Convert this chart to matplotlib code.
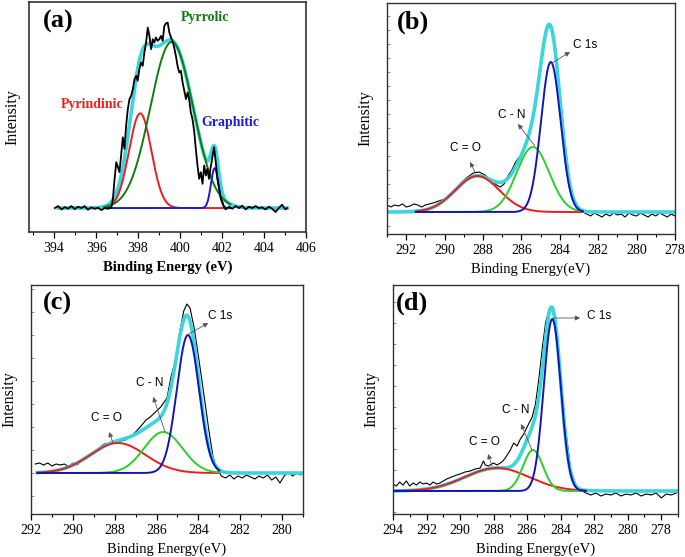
import numpy as np
import matplotlib
matplotlib.use("Agg")
import matplotlib.pyplot as plt
from matplotlib.ticker import MultipleLocator, NullFormatter

plt.rcParams['font.family'] = ['Liberation Serif', 'DejaVu Serif']

# ---------------- panel (a): N 1s ----------------
a_raw_e = [394.03, 394.19, 394.35, 394.51, 394.66, 394.82, 394.98, 395.14, 395.30, 395.45,
           395.61, 395.77, 395.93, 396.09, 396.25, 396.40, 396.56, 396.72, 396.80, 396.88,
           396.96, 397.04, 397.11, 397.19, 397.27, 397.35, 397.43, 397.51, 397.59, 397.67,
           397.75, 397.83, 397.91, 397.98, 398.06, 398.14, 398.22, 398.30, 398.38, 398.46,
           398.54, 398.62, 398.70, 398.77, 398.85, 398.93, 399.01, 399.09, 399.17, 399.25,
           399.33, 399.41, 399.49, 399.57, 399.64, 399.72, 399.80, 399.88, 399.96, 400.04,
           400.12, 400.20, 400.28, 400.36, 400.43, 400.51, 400.59, 400.67, 400.75, 400.83,
           400.91, 400.99, 401.07, 401.15, 401.23, 401.30, 401.38, 401.46, 401.54, 401.62,
           401.70, 401.78, 401.86, 401.94, 402.02, 402.09, 402.17, 402.33, 402.49, 402.65,
           402.81, 402.96, 403.12, 403.28, 403.44, 403.60, 403.75, 403.91, 404.07, 404.23,
           404.39, 404.55, 404.70, 404.86, 405.02, 405.10]
a_raw_i = [0, 6, -4, 3, -2, 6, -3, 4, 0, 6,
           -5, 2, -2, 1, -6, 0, -2, 1, 28, 88,
           138, 123, 108, 158, 213, 178, 248, 298, 328, 338,
           358, 388, 398, 383, 418, 438, 428, 468, 498, 543,
           518, 478, 508, 498, 513, 503, 508, 518, 503, 548,
           556, 558, 528, 513, 503, 483, 458, 428, 408, 413,
           378, 353, 328, 348, 328, 288, 268, 233, 178, 128,
           88, 108, 73, 128, 98, 118, 88, 123, 153, 183,
           138, 88, 58, 28, 18, 3, -4, 4, -2, 6,
           0, 7, -4, 4, 0, 6, 0, 2, -4, 4,
           -2, -12, 0, 10, -4, 0]
a_names = ['Pyrindinic', 'Pyrrolic', 'Graphitic']
a_centers = [398.1, 399.6, 401.65]
a_heights = [285, 500, 120]
a_fwhm = [1.25, 2.4, 0.42]

# ---------------- panel (b): C 1s ----------------
b_raw_e = [293.0, 292.8, 292.6, 292.4, 292.2, 292.0, 291.8, 291.6, 291.4, 291.2,
           291.0, 290.8, 290.6, 290.3, 290.0, 289.7, 289.4, 289.1, 288.8, 288.5,
           288.2, 287.9, 287.6, 287.3, 287.1, 286.9, 286.7, 286.5, 286.3, 286.0,
           285.7, 285.5, 285.2, 285.0, 284.8, 284.6, 284.4, 284.2, 284.0, 283.8,
           283.5, 283.3, 283.0, 282.8, 282.6, 282.4, 282.2, 282.0, 281.8, 281.6,
           281.4, 281.2, 281.0, 280.8, 280.6, 280.4, 280.2, 280.0, 279.8, 279.6,
           279.4, 279.2, 279.0, 278.8, 278.6, 278.4, 278.2, 278.0]
b_raw_i = [7, 5, 7, 6, 8, 5, 6, 8, 7, 5,
           7, 8, 9, 11, 13, 18, 24, 30, 35, 39,
           40, 37, 32, 27, 25, 28, 36, 42, 50, 58,
           70, 86, 115, 146, 172, 186, 183, 160, 120, 80,
           32, 14, 3, 0, -2, -4, -1, -3, -5, -2,
           -4, -1, -3, -2, -5, -1, -3, -4, -1, -3,
           -5, -2, -4, -1, -3, -5, -2, -4]
b_names = ['C = O', 'C - N', 'C 1s']
b_centers = [288.3, 285.4, 284.47]
b_heights = [36, 65, 150]
b_fwhm = [2.7, 2.0, 1.2]

# ---------------- panel (c): C 1s ----------------
c_raw_e = [291.8, 291.6, 291.4, 291.2, 291.0, 290.8, 290.6, 290.4, 290.2, 290.0,
           289.8, 289.6, 289.4, 289.2, 289.0, 288.8, 288.5, 288.2, 288.0, 287.7,
           287.5, 287.2, 287.0, 286.7, 286.5, 286.3, 286.0, 285.8, 285.5, 285.3,
           285.1, 284.9, 284.7, 284.55, 284.4, 284.2, 284.0, 283.8, 283.5, 283.3,
           283.1, 282.9, 282.7, 282.5, 282.3, 282.1, 281.9, 281.7, 281.5, 281.3,
           281.1, 280.9, 280.7, 280.5, 280.3, 280.1, 279.9, 279.7, 279.5, 279.3,
           279.1]
c_raw_i = [9, 10, 8, 10, 7, 9, 8, 9, 6, 10,
           8, 12, 14, 17, 20, 24, 29, 30, 30, 32,
           33, 37, 41, 48, 53, 56, 62, 66, 75, 97,
           112, 140, 162, 169, 165, 145, 117, 88, 43, 16,
           4, -3, -5, -2, -6, -3, -5, -2, -4, -6,
           -3, -5, -2, -7, -4, -10, -3, 1, -3, 0,
           -2]
c_names = ['C = O', 'C - N', 'C 1s']
c_centers = [287.85, 285.68, 284.5]
c_heights = [30, 41, 138]
c_fwhm = [3.1, 2.15, 1.25]

# ---------------- panel (d): C 1s ----------------
d_raw_e = [294.0, 293.8, 293.6, 293.4, 293.2, 293.0, 292.8, 292.6, 292.4, 292.2,
           292.0, 291.8, 291.6, 291.4, 291.2, 291.0, 290.8, 290.5, 290.2, 290.0,
           289.7, 289.4, 289.1, 288.8, 288.6, 288.5, 288.3, 288.0, 287.8, 287.5,
           287.3, 287.0, 286.8, 286.6, 286.4, 286.2, 286.0, 285.7, 285.5, 285.3,
           285.1, 284.9, 284.7, 284.55, 284.4, 284.2, 284.0, 283.7, 283.4, 283.1,
           282.8, 282.5, 282.2, 281.9, 281.6, 281.3, 281.0, 280.7, 280.4, 280.1,
           279.8, 279.5, 279.2, 278.9, 278.6, 278.3, 278.0, 277.7, 277.4, 277.1]
d_raw_i = [7, 5, 9, 6, 10, 5, 8, 6, 9, 7,
           8, 6, 9, 7, 8, 10, 12, 14, 16, 17,
           19, 20, 22, 23, 30, 26, 25, 28, 26, 29,
           33, 41, 48, 45, 52, 57, 64, 74, 87, 112,
           142, 168, 181, 183, 174, 147, 114, 61, 21, 6,
           1, -2, -4, -2, -5, -3, -4, -2, -5, -3,
           -4, -2, -5, -3, -4, -2, -7, -3, -4, -2]
d_names = ['C = O', 'C - N', 'C 1s']
d_centers = [287.8, 285.65, 284.5]
d_heights = [23, 41, 172]
d_fwhm = [4.5, 1.4, 1.2]


def peak(e, center, height, fwhm):
    return height * np.exp(-4 * np.log(2) * (e - center) ** 2 / fwhm ** 2)


def style_axes(ax, xlim, ylim, xstep, ystep=None, bold=False):
    ax.set_xlim(*xlim)
    ax.set_ylim(*ylim)
    ax.xaxis.set_major_locator(MultipleLocator(xstep))
    ax.xaxis.set_minor_locator(MultipleLocator(xstep / 2))
    ax.tick_params(axis='x', which='major', direction='out', length=4, width=0.9,
                   labelsize=10, pad=3, top=False)
    ax.tick_params(axis='x', which='minor', direction='out', length=2.5, width=0.8, top=False)
    if ystep is None:
        ax.set_yticks([])
    else:
        ax.yaxis.set_major_locator(MultipleLocator(ystep))
        ax.yaxis.set_major_formatter(NullFormatter())
        ax.tick_params(axis='y', which='major', direction='in', length=2, width=0.6,
                       color='#777777', right=False)
    for sp in ax.spines.values():
        sp.set_color('#333333')
        sp.set_linewidth(1.2 if bold else 1.0)
    lab = 'Binding Energy (eV)' if bold else 'Binding Energy(eV)'
    ax.set_xlabel(lab, fontsize=10.5, fontweight='bold' if bold else 'normal', labelpad=4)
    ax.set_ylabel('Intensity', fontsize=11.5, labelpad=6)


fig = plt.figure(figsize=(6.85, 5.57), dpi=100)

# (a)
ax = fig.add_axes([0.0423, 0.5835, 0.4044, 0.4129])
e_full = np.linspace(394.2, 405.1, 600)
e_comp = np.linspace(396.4, 402.4, 500)
a_cols = ['#ee1c1c', '#117a11', '#1c1cd6']
env = sum(peak(e_full, c, h, w) for c, h, w in zip(a_centers, a_heights, a_fwhm))
ax.plot(e_full, env, color='#3ad6dc', lw=2.6, zorder=2)
for c, h, w, col in zip(a_centers, a_heights, a_fwhm, a_cols):
    ax.plot(e_comp, peak(e_comp, c, h, w), color=col, lw=1.4, zorder=3)
ax.plot(a_raw_e, a_raw_i, color='black', lw=1.3, zorder=4)
style_axes(ax, (392.8, 406.0), (-72, 620), 2, None, bold=True)
ax.text(0.105, 0.915, '(a)', transform=ax.transAxes, fontsize=19, fontweight='bold',
        ha='center', va='center')
ax.text(401.2, 574, 'Pyrrolic', color='#117a11', fontsize=10, fontweight='bold',
        ha='center', va='center')
ax.text(395.8, 313, 'Pyrindinic', color='#ee1c1c', fontsize=10, fontweight='bold',
        ha='center', va='center')
ax.text(402.4, 256, 'Graphitic', color='#1c1cd6', fontsize=10, fontweight='bold',
        ha='center', va='center')

cols = ['#ee1c1c', '#2ad12a', '#1414b4']
arrow = dict(arrowstyle='-|>', color='#555555', lw=0.6, mutation_scale=7,
             shrinkA=0, shrinkB=0)


def draw_c1s(rect, raw_e, raw_i, centers, heights, fwhm, names, env_rng, comp_rng,
             xlim, ylim, xstep, ystep, tag, tag_xy, labels):
    ax = fig.add_axes(rect)
    ax.plot(raw_e, raw_i, color='black', lw=0.8, zorder=1)
    e_env = np.linspace(env_rng[0], env_rng[1], 700)
    e_c = np.linspace(comp_rng[0], comp_rng[1], 600)
    env = sum(peak(e_env, c, h, w) for c, h, w in zip(centers, heights, fwhm))
    ax.plot(e_env, env, color='#3ad6dc', lw=2.6, zorder=2)
    for c, h, w, col in zip(centers, heights, fwhm, cols):
        ax.plot(e_c, peak(e_c, c, h, w), color=col, lw=1.4, zorder=3)
    style_axes(ax, xlim, ylim, xstep, ystep)
    ax.text(tag_xy[0], tag_xy[1], tag, transform=ax.transAxes, fontsize=19,
            fontweight='bold', ha='center', va='center')
    for name, (txy, tail, head) in zip(names, labels):
        ax.text(txy[0], txy[1], name, fontsize=8.5, family=['Liberation Sans', 'DejaVu Sans'],
                ha='center', va='center')
        ax.annotate('', xy=head, xytext=tail, arrowprops=arrow, zorder=5)
    return ax


# (b)
draw_c1s([0.565, 0.5799, 0.4204, 0.4147], b_raw_e, b_raw_i, b_centers, b_heights, b_fwhm,
         b_names, (293.0, 278.0), (291.5, 282.8), (293.0, 278.0), (-22, 209), 2, 14,
         '(b)', (0.09, 0.918),
         [((288.94, 64), (288.42, 40), (288.68, 50)),
          ((286.49, 97), (285.29, 66), (286.18, 88)),
          ((282.69, 167), (284.41, 149), (283.47, 160))])

# (c)
draw_c1s([0.0453, 0.0772, 0.397, 0.4111], c_raw_e, c_raw_i, c_centers, c_heights, c_fwhm,
         c_names, (291.7, 279.0), (291.7, 283.0), (292.0, 279.0), (-41, 188), 2, 23,
         '(c)', (0.096, 0.921),
         [((288.41, 55), (288.08, 30), (288.27, 41)),
          ((286.31, 90), (285.59, 41), (286.16, 76)),
          ((282.96, 157), (284.54, 138), (283.53, 150))])

# (d)
draw_c1s([0.5737, 0.0772, 0.4161, 0.4111], d_raw_e, d_raw_i, d_centers, d_heights, d_fwhm,
         d_names, (294.0, 277.0), (294.0, 282.5), (294.0, 277.0), (-23, 206), 2, 21,
         '(d)', (0.067, 0.921),
         [((288.57, 49), (288.09, 25), (288.33, 37)),
          ((286.66, 81), (285.71, 41), (286.36, 67)),
          ((281.71, 175), (284.45, 173), (282.84, 173))])

fig.savefig('out.png', dpi=100)
